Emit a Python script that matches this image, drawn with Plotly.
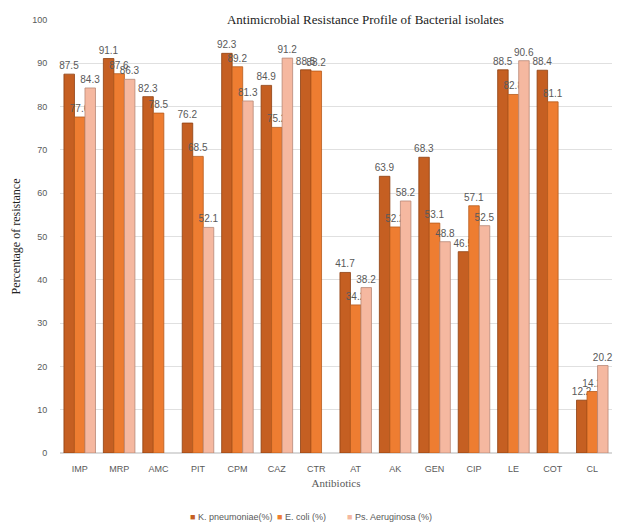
import plotly.graph_objects as go

categories = ["IMP", "MRP", "AMC", "PIT", "CPM", "CAZ", "CTR", "AT", "AK", "GEN", "CIP", "LE", "COT", "CL"]
k_pneumoniae = [87.5, 91.1, 82.3, 76.2, 92.3, 84.9, 88.5, 41.7, 63.9, 68.3, 46.5, 88.5, 88.4, 12.2]
e_coli = [77.6, 87.6, 78.5, 68.5, 89.2, 75.2, 88.2, 34.2, 52.2, 53.1, 57.1, 82.8, 81.1, 14.2]
ps_aeruginosa = [84.3, 86.3, None, 52.1, 81.3, 91.2, None, 38.2, 58.2, 48.8, 52.5, 90.6, None, 20.2]
series_names = ["K. pneumoniae(%)", "E. coli (%)", "Ps. Aeruginosa (%)"]
y_ticks = [0, 10, 20, 30, 40, 50, 60, 70, 80, 90, 100]

colors = ["#C55F22", "#EE7D31", "#F5B8A0"]
edge = ["#8E3F10", "#B65A1C", "#B88876"]

fig = go.Figure()
for name, vals, c, e in zip(series_names, [k_pneumoniae, e_coli, ps_aeruginosa], colors, edge):
    fig.add_trace(go.Bar(
        x=categories, y=vals, name=name,
        marker=dict(color=c, line=dict(color=e, width=0.8)),
        text=[("" if v is None else f"{v:.1f}") for v in vals],
        textposition="outside",
        constraintext="none",
        textfont=dict(family="Liberation Sans, Arial", size=10, color="#595959"),
        cliponaxis=False,
        showlegend=False,
    ))

# manual legend (compact, like the reference)
legend_x = [0.232, 0.39, 0.517]
for name, c, lx in zip(series_names, colors, legend_x):
    fig.add_annotation(
        xref="paper", yref="paper", x=lx, y=-0.148, xanchor="left", yanchor="middle",
        text=f"<span style='color:{c}'>■</span> {name}", showarrow=False,
        font=dict(family="Liberation Sans, Arial", size=9, color="#595959"),
    )

fig.update_layout(
    width=627, height=525,
    margin=dict(l=52, r=23, t=12, b=80, autoexpand=False),
    paper_bgcolor="white", plot_bgcolor="white",
    barmode="group", bargap=0.2, bargroupgap=0,
    title=dict(text="Antimicrobial Resistance Profile of Bacterial isolates",
               font=dict(family="Liberation Serif, Times New Roman", size=13, color="#222222"),
               x=0.57, xanchor="center", y=0.979, yanchor="middle"),
    xaxis=dict(
        title=dict(text="Antibiotics", font=dict(family="Liberation Serif, Times New Roman", size=11, color="#595959"), standoff=6),
        tickfont=dict(family="Liberation Sans, Arial", size=9, color="#595959"),
        showgrid=False, showline=False, ticks="outside", ticklen=7, tickcolor="rgba(0,0,0,0)",
    ),
    yaxis=dict(
        title=dict(text="Percentage of resistance", font=dict(family="Liberation Serif, Times New Roman", size=12, color="#222222"), standoff=8),
        range=[0, 100], tickvals=y_ticks,
        tickfont=dict(family="Liberation Sans, Arial", size=9, color="#595959"),
        showgrid=True, gridcolor="#E0E0E0", gridwidth=1, zeroline=True, zerolinecolor="#D9D9D9",
        ticks="outside", ticklen=10, tickcolor="rgba(0,0,0,0)",
    ),
)

fig.write_html("out.html")
